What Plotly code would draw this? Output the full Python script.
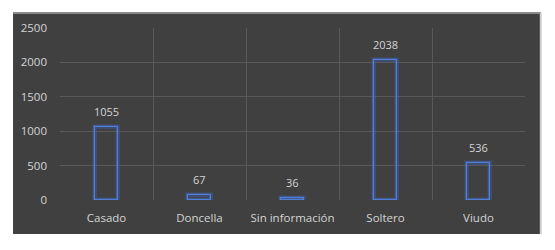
import plotly.graph_objects as go

categories = ["Casado", "Doncella", "Sin información", "Soltero", "Viudo"]
values = [1055, 67, 36, 2038, 536]
y_ticks = [0, 500, 1000, 1500, 2000, 2500]

BG = "#404040"
GRID = "#595959"
TXT = "#d4d4d4"
x_pos = list(range(len(categories)))

fig = go.Figure()
# glow
fig.add_trace(go.Bar(x=x_pos, y=values, width=0.25,
                     marker=dict(color="rgba(0,0,0,0)",
                                 line=dict(color="rgba(60,110,230,0.3)", width=4.5)),
                     hoverinfo="skip", showlegend=False))
fig.add_trace(go.Bar(x=x_pos, y=values, width=0.25,
                     marker=dict(color="rgba(0,0,0,0)",
                                 line=dict(color="#4f7fd8", width=1.3)),
                     hoverinfo="skip", showlegend=False))

for xp, v in zip(x_pos, values):
    fig.add_annotation(x=xp, y=v, text=str(v), showarrow=False,
                       yanchor="bottom", yshift=6,
                       font=dict(color=TXT, size=11, family="Open Sans"))

fig.add_shape(type="rect", xref="paper", yref="paper",
              x0=-0.101, x1=1.034, y0=-0.198, y1=1.087,
              fillcolor=BG, line=dict(width=0), layer="below")
fig.add_shape(type="line", xref="paper", yref="paper",
              x0=-0.101, x1=1.034, y0=1.087, y1=1.087,
              line=dict(color="#8a8a8a", width=2), layer="below")
fig.add_shape(type="line", xref="paper", yref="paper",
              x0=1.034, x1=1.034, y0=-0.198, y1=1.087,
              line=dict(color="#cfcfcf", width=2), layer="below")

fig.update_layout(
    width=547, height=242,
    margin=dict(l=52, r=30, t=20, b=50),
    paper_bgcolor="white", plot_bgcolor=BG,
    barmode="overlay", bargap=0,
    font=dict(family="Open Sans", color=TXT, size=11),
    showlegend=False,
)
fig.update_xaxes(range=[-0.5, 4.5], tickvals=x_pos, ticktext=categories,
                 showgrid=False, zeroline=False, showline=False,
                 tickfont=dict(size=11.5, color=TXT), ticks="", ticklabelstandoff=9,
                 minor=dict(tick0=0.5, dtick=1, showgrid=True, gridcolor=GRID, gridwidth=1, ticks=""))
fig.update_yaxes(range=[0, 2500], tickvals=y_ticks, showgrid=True, gridcolor=GRID,
                 zeroline=False, showline=False, ticks="", ticklabelstandoff=12,
                 tickfont=dict(size=11.5, color=TXT))

fig.write_html("out.html")
